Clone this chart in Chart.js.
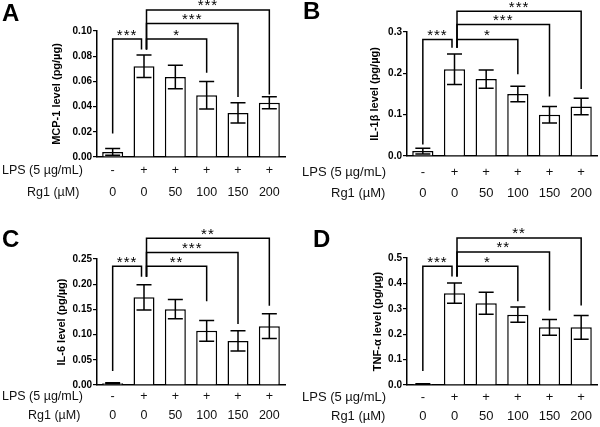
<!DOCTYPE html>
<html>
<head>
<meta charset="utf-8">
<script src="https://cdn.jsdelivr.net/npm/chart.js@4/dist/chart.umd.min.js"></script>
<style>
body { margin: 0; background: #fff; }
#fig { position: relative; width: 600px; height: 427px; }
canvas { position: absolute; }
</style>
</head>
<body>
<div id="fig">
  <canvas id="chartA" width="300" height="214" style="left:0;top:0"></canvas>
  <canvas id="chartB" width="300" height="214" style="left:300px;top:0"></canvas>
  <canvas id="chartC" width="300" height="214" style="left:0;top:213px"></canvas>
  <canvas id="chartD" width="300" height="214" style="left:300px;top:213px"></canvas>
</div>
<script>
const groups = ["Control", "LPS", "LPS+Rg1 50", "LPS+Rg1 100", "LPS+Rg1 150", "LPS+Rg1 200"];
const lpsRow = ["-", "+", "+", "+", "+", "+"];
const rg1Row = ["0", "0", "50", "100", "150", "200"];

const mcp1Means = [0.004, 0.072, 0.0635, 0.049, 0.035, 0.043];
const mcp1Errors = [0.0027, 0.009, 0.0093, 0.011, 0.008, 0.0048];
const il1bMeans = [0.012, 0.21, 0.186, 0.150, 0.100, 0.120];
const il1bErrors = [0.007, 0.037, 0.022, 0.019, 0.020, 0.020];
const il6Means = [0.0033, 0.174, 0.1505, 0.1075, 0.0875, 0.1167];
const il6Errors = [0.001, 0.025, 0.019, 0.0205, 0.020, 0.0245];
const tnfMeans = [0.004, 0.3615, 0.322, 0.277, 0.227, 0.227];
const tnfErrors = [0.001, 0.040, 0.043, 0.030, 0.031, 0.047];

// significance brackets: pairs of bars, label, height, and where each leg stops
const bracketPairs = [[0, 1], [1, 3], [1, 4], [1, 5]];
const mcp1Stars = ["***", "*", "***", "***"];
const il1bStars = ["***", "*", "***", "***"];
const il6Stars = ["***", "**", "***", "**"];
const tnfStars = ["***", "*", "**", "**"];
const mcp1Levels = [0.0936, 0.0936, 0.106, 0.1167];
const il1bLevels = [0.282, 0.282, 0.318, 0.350];
const il6Levels = [0.2354, 0.2354, 0.263, 0.291];
const tnfLevels = [0.468, 0.468, 0.524, 0.579];
const mcp1LegEnds = [0.0186, 0.0854, null, 0.0668, 0.0477, 0.0496];
const il1bLegEnds = [0.028, 0.262, null, 0.198, 0.144, 0.162];
const il6LegEnds = [0.028, 0.215, null, 0.166, 0.121, 0.157];
const tnfLegEnds = [0.055, 0.427, null, 0.33, 0.293, 0.313];

const FONT = "'Liberation Sans', Arial, sans-serif";

const panels = {
    chartA: { letter: "A", title: "MCP-1 level (pg/\u00b5g)", means: mcp1Means, errors: mcp1Errors,
        stars: mcp1Stars, levels: mcp1Levels, legEnds: mcp1LegEnds, max: 0.10, step: 0.02, digits: 2,
        padLeft: 50, left: 97, right: 285, top: 31, bottom: 157,
        lpsY: 171, rg1Y: 193, rowFont: 12.5, rg1X: 27, letterX: 2, letterY: 21 },
    chartB: { letter: "B", title: "IL-1\u03b2 level (pg/\u00b5g)", means: il1bMeans, errors: il1bErrors,
        stars: il1bStars, levels: il1bLevels, legEnds: il1bLegEnds, max: 0.3, step: 0.1, digits: 1,
        padLeft: 68, left: 107, right: 297, top: 32, bottom: 156,
        lpsY: 172, rg1Y: 193, rowFont: 13, rg1X: 31, letterX: 3, letterY: 19 },
    chartC: { letter: "C", title: "IL-6 level (pg/\u00b5g)", means: il6Means, errors: il6Errors,
        stars: il6Stars, levels: il6Levels, legEnds: il6LegEnds, max: 0.25, step: 0.05, digits: 2,
        padLeft: 55, left: 97, right: 285, top: 46, bottom: 172,
        lpsY: 184, rg1Y: 203, rowFont: 12.5, rg1X: 28, letterX: 2, letterY: 34 },
    chartD: { letter: "D", title: "TNF-\u03b1 level (pg/\u00b5g)", means: tnfMeans, errors: tnfErrors,
        stars: tnfStars, levels: tnfLevels, legEnds: tnfLegEnds, max: 0.5, step: 0.1, digits: 1,
        padLeft: 71, left: 107, right: 297, top: 45, bottom: 172,
        lpsY: 184, rg1Y: 203, rowFont: 13, rg1X: 31, letterX: 13, letterY: 34 }
};

const annotate = {
    id: "annotate",
    afterDatasetsDraw(chart) {
        const p = panels[chart.canvas.id];
        const xs = chart.scales.x, ys = chart.scales.y;
        const ctx = chart.ctx;
        ctx.save();
        ctx.strokeStyle = "#000";
        ctx.lineWidth = 1.5;
        p.means.forEach((m, i) => {
            const x = xs.getPixelForValue(i);
            const yTop = ys.getPixelForValue(m + p.errors[i]);
            const yBot = ys.getPixelForValue(Math.max(0, m - p.errors[i]));
            ctx.beginPath();
            ctx.moveTo(x, yTop); ctx.lineTo(x, yBot);
            ctx.moveTo(x - 7.5, yTop); ctx.lineTo(x + 7.5, yTop);
            ctx.moveTo(x - 7.5, yBot); ctx.lineTo(x + 7.5, yBot);
            ctx.stroke();
        });
        ctx.restore();
    },
    afterDraw(chart) {
        const p = panels[chart.canvas.id];
        const xs = chart.scales.x, ys = chart.scales.y;
        const ctx = chart.ctx;
        ctx.save();
        ctx.strokeStyle = "#000";
        ctx.fillStyle = "#000";
        ctx.lineWidth = 1.5;

        // brackets
        bracketPairs.forEach(([a, b], k) => {
            let xa = xs.getPixelForValue(a), xb = xs.getPixelForValue(b);
            if (a === 1) xa += 2.5;
            if (b === 1) xb -= 2.5;
            const yl = ys.getPixelForValue(p.levels[k]);
            ctx.beginPath();
            ctx.moveTo(xa, ys.getPixelForValue(p.legEnds[a]));
            ctx.lineTo(xa, yl);
            ctx.lineTo(xb, yl);
            ctx.lineTo(xb, ys.getPixelForValue(p.legEnds[b]));
            ctx.stroke();
            ctx.font = "15px " + FONT;
            ctx.letterSpacing = "1px";
            ctx.textAlign = "center";
            ctx.textBaseline = "alphabetic";
            ctx.fillText(p.stars[k], (xa + xb) / 2, yl + 0.5);
        });
        ctx.letterSpacing = "0px";

        // treatment table
        ctx.font = p.rowFont + "px " + FONT;
        ctx.fillStyle = "#111";
        ctx.textBaseline = "middle";
        ctx.textAlign = "left";
        ctx.fillText("LPS (5 \u00b5g/mL)", 2, p.lpsY);
        ctx.fillText("Rg1 (\u00b5M)", p.rg1X, p.rg1Y);
        ctx.textAlign = "center";
        groups.forEach((g, i) => {
            const x = xs.getPixelForValue(i);
            ctx.fillText(lpsRow[i], x, p.lpsY);
            ctx.fillText(rg1Row[i], x, p.rg1Y);
        });

        // panel letter
        ctx.fillStyle = "#000";
        ctx.font = "bold 24px " + FONT;
        ctx.textAlign = "left";
        ctx.textBaseline = "alphabetic";
        ctx.fillText(p.letter, p.letterX, p.letterY);
        ctx.restore();
    }
};

function makePanel(id) {
    const p = panels[id];
    return new Chart(document.getElementById(id), {
        type: "bar",
        data: {
            labels: groups,
            datasets: [{
                data: p.means,
                backgroundColor: "#fff",
                borderColor: "#000",
                borderWidth: 1.5,
                barPercentage: 0.67,
                categoryPercentage: 1
            }]
        },
        options: {
            responsive: false,
            animation: false,
            layout: { padding: { left: p.padLeft, top: p.top, right: 300 - p.right, bottom: 0 } },
            plugins: { legend: { display: false }, tooltip: { enabled: false } },
            scales: {
                x: {
                    grid: { display: false },
                    border: { color: "#000", width: 1.5 },
                    ticks: { display: false },
                    afterFit: s => { s.height = 214 - p.bottom; }
                },
                y: {
                    min: 0,
                    max: p.max,
                    ticks: {
                        stepSize: p.step,
                        color: "#000",
                        padding: 1,
                        font: { family: FONT, size: 10, weight: "bold" },
                        callback: v => v.toFixed(p.digits)
                    },
                    grid: { drawOnChartArea: false, tickLength: 4, color: "#000", lineWidth: 1.2 },
                    border: { color: "#000", width: 1.5 },
                    title: {
                        display: true,
                        text: p.title,
                        color: "#000",
                        padding: { top: 0, bottom: 0 },
                        font: { family: FONT, size: 11, weight: "bold" }
                    },
                    afterFit: s => { s.width = p.left - p.padLeft; }
                }
            }
        },
        plugins: [annotate]
    });
}

Object.keys(panels).forEach(makePanel);
</script>
</body>
</html>
